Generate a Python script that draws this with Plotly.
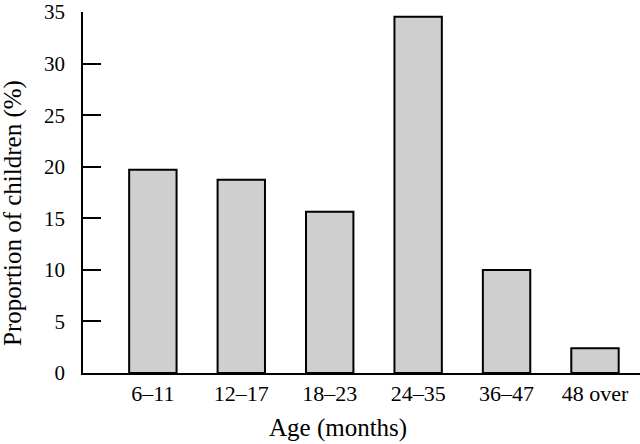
import plotly.graph_objects as go

categories = ["6–11", "12–17", "18–23", "24–35", "36–47", "48 over"]
proportions = [19.7, 18.75, 15.65, 34.55, 10.0, 2.4]
y_ticks = [0, 5, 10, 15, 20, 25, 30, 35]

W, H = 640, 444
L, R, T, B = 83, 0, 12, 71
pw = W - L - R
ph = H - T - B

fig = go.Figure()
fig.add_trace(go.Bar(
    x=list(range(len(categories))),
    y=proportions,
    width=0.536,
    marker=dict(color="#cfcfcf", line=dict(color="black", width=2)),
))

font = "Liberation Serif, Times New Roman, serif"
fig.update_layout(
    width=W, height=H,
    autosize=False,
    margin=dict(l=L, r=R, t=T, b=B, pad=0, autoexpand=False),
    paper_bgcolor="white", plot_bgcolor="white",
    showlegend=False,
    font=dict(family=font, color="black", size=22),
    xaxis=dict(
        range=[-0.79, 5.509],
        tickmode="array", tickvals=list(range(len(categories))), ticktext=categories,
        ticks="", showgrid=False, zeroline=False,
        showline=True, linecolor="black", linewidth=1.5,
        tickfont=dict(size=22, family=font),
        automargin=False,
        fixedrange=True,
    ),
    yaxis=dict(
        range=[0, 35.01],
        tickmode="array", tickvals=y_ticks,
        ticks="inside", ticklen=18, tickwidth=1.5, tickcolor="black",
        showgrid=False, zeroline=False,
        showline=True, linecolor="black", linewidth=1.5,
        tickfont=dict(size=21, family=font),
        ticklabelstandoff=12,
        ticklabeloverflow="allow",
        automargin=False,
        fixedrange=True,
    ),
    annotations=[
        dict(text="Age (months)", xref="paper", yref="paper",
             x=(338 - L) / pw, y=(T + ph - 428) / ph,
             xanchor="center", yanchor="middle", showarrow=False,
             font=dict(size=25, family=font, color="black")),
        dict(text="Proportion of children (%)", xref="paper", yref="paper",
             x=(13 - L) / pw, y=(T + ph - 213) / ph, textangle=-90,
             xanchor="center", yanchor="middle", showarrow=False,
             font=dict(size=25, family=font, color="black")),
    ],
)

fig.write_html(
    "out.html",
    config={"displayModeBar": False},
    post_script="document.body.style.margin='0';document.body.style.overflow='hidden';",
)
